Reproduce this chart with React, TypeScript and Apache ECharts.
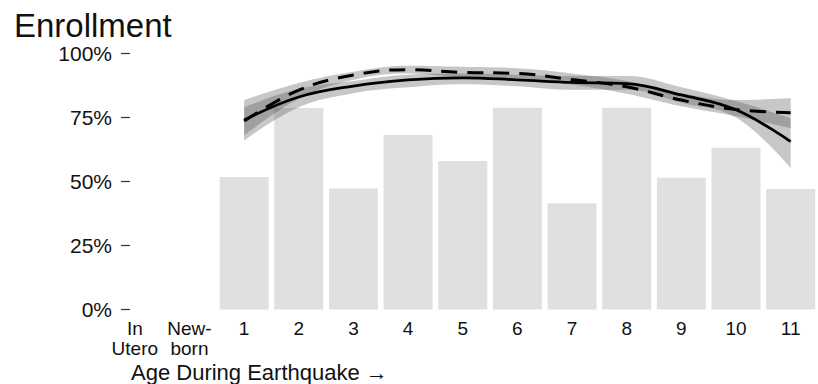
import React, { useEffect, useRef } from "react";
import * as echarts from "echarts";

const categories = ["In\nUtero", "New-\nborn", "1", "2", "3", "4", "5", "6", "7", "8", "9", "10", "11"];
const barValues = ["-", "-", 0.518, 0.787, 0.473, 0.682, 0.58, 0.788, 0.415, 0.788, 0.515, 0.632, 0.471];

const solidMean = ["-", "-", 0.74, 0.83, 0.873, 0.897, 0.905, 0.897, 0.887, 0.882, 0.838, 0.78, 0.656];
const solidLower = ["-", "-", 0.66, 0.79, 0.845, 0.868, 0.88, 0.872, 0.858, 0.858, 0.808, 0.75, 0.553];
const solidUpper = ["-", "-", 0.79, 0.862, 0.893, 0.917, 0.922, 0.917, 0.912, 0.912, 0.868, 0.814, 0.747];

const dashedMean = ["-", "-", 0.736, 0.857, 0.916, 0.937, 0.926, 0.922, 0.898, 0.87, 0.818, 0.781, 0.769];
const dashedLower = ["-", "-", 0.68, 0.823, 0.897, 0.922, 0.906, 0.903, 0.878, 0.843, 0.794, 0.755, 0.708];
const dashedUpper = ["-", "-", 0.818, 0.885, 0.929, 0.952, 0.948, 0.942, 0.922, 0.893, 0.845, 0.818, 0.826];

const yTicks = [0, 0.25, 0.5, 0.75, 1];

const FONT = "'Liberation Sans', Arial, Helvetica, sans-serif";

function diff(upper: any[], lower: any[]) {
  return upper.map((u, i) => (u === "-" || lower[i] === "-" ? "-" : +(u - lower[i]).toFixed(4)));
}

export default function App() {
  const ref = useRef<HTMLDivElement>(null);
  useEffect(() => {
    if (!ref.current) return;
    const chart = echarts.init(ref.current, undefined, { renderer: "svg" });
    const bandColor = "rgba(70,70,70,0.3)";
    const option: any = {
      animation: false,
      backgroundColor: "#ffffff",
      title: {
        text: "Enrollment",
        left: 14,
        top: 9,
        padding: 0,
        textStyle: { fontFamily: FONT, fontSize: 33, fontWeight: "normal", color: "#111" },
      },
      graphic: [
        {
          type: "text",
          left: 131,
          top: 361,
          style: { text: "Age During Earthquake \u2192", fontFamily: FONT, fontSize: 22, fill: "#111" },
        },
      ],
      grid: { left: 107.5, top: 53.5, width: 715, bottom: 74.5, containLabel: false },
      xAxis: {
        type: "category",
        data: categories,
        boundaryGap: true,
        axisLine: { show: false },
        axisTick: { show: false },
        axisLabel: {
          margin: 9,
          fontFamily: FONT,
          fontSize: 19,
          color: "#111",
          lineHeight: 20,
          interval: 0,
        },
      },
      yAxis: {
        type: "value",
        min: 0,
        max: 1,
        interval: 0.25,
        offset: -22.5,
        splitLine: { show: false },
        axisLine: { show: false },
        axisTick: { show: true, length: 9, lineStyle: { color: "#333", width: 1.2 } },
        axisLabel: {
          margin: 18,
          fontFamily: FONT,
          fontSize: 21,
          color: "#111",
          formatter: (v: number) => (yTicks.includes(v) ? Math.round(v * 100) + "%" : ""),
        },
      },
      series: [
        {
          type: "bar",
          data: barValues,
          barWidth: 49,
          itemStyle: { color: "#e0e0e0" },
          silent: true,
        },
        {
          type: "line",
          data: dashedLower,
          stack: "dBand",
          smooth: 0.4,
          symbol: "none",
          lineStyle: { opacity: 0 },
          silent: true,
        },
        {
          type: "line",
          data: diff(dashedUpper, dashedLower),
          stack: "dBand",
          smooth: 0.4,
          symbol: "none",
          lineStyle: { opacity: 0 },
          areaStyle: { color: bandColor, opacity: 1 },
          silent: true,
        },
        {
          type: "line",
          data: solidLower,
          stack: "sBand",
          smooth: 0.4,
          symbol: "none",
          lineStyle: { opacity: 0 },
          silent: true,
        },
        {
          type: "line",
          data: diff(solidUpper, solidLower),
          stack: "sBand",
          smooth: 0.4,
          symbol: "none",
          lineStyle: { opacity: 0 },
          areaStyle: { color: bandColor, opacity: 1 },
          silent: true,
        },
        {
          type: "line",
          data: solidMean,
          smooth: 0.4,
          symbol: "none",
          lineStyle: { color: "#000", width: 2.8 },
          silent: true,
        },
        {
          type: "line",
          data: dashedMean,
          smooth: 0.4,
          symbol: "none",
          lineStyle: { color: "#000", width: 3, type: [16, 10], cap: "butt" },
          silent: true,
        },
      ],
    };
    chart.setOption(option);
    return () => chart.dispose();
  }, []);
  return <div ref={ref} style={{ width: 818, height: 384, position: "absolute", left: 0, top: 0 }} />;
}
